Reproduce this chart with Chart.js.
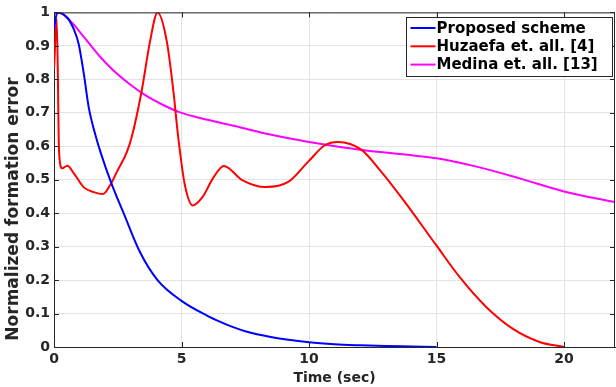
<!DOCTYPE html>
<html>
<head>
<meta charset="utf-8">
<script src="https://cdn.jsdelivr.net/npm/chart.js@4"></script>
<style>
  html, body { margin: 0; padding: 0; background: #fff; }
  #wrap { width: 616px; height: 387px; }
</style>
</head>
<body>
<div id="wrap"><canvas id="errChart" width="616" height="387"></canvas></div>
<script>
// data
const seriesNames = ['Proposed scheme', 'Huzaefa et. all. [4]', 'Medina et. all. [13]'];
const seriesColors = ['#0000ff', '#ff0000', '#ff00ff'];

const proposedT = [0, 0.13, 0.52, 0.78, 0.97, 1.17, 1.36, 1.6, 1.82, 2.27, 2.73, 3.35, 4.06, 5, 6, 6.5, 7, 7.5, 8.5, 10, 11, 12, 13, 14, 15];
const proposedE = [0.95, 1.0, 0.984, 0.949, 0.905, 0.816, 0.717, 0.64, 0.583, 0.485, 0.4, 0.287, 0.2, 0.138, 0.094, 0.076, 0.06, 0.047, 0.03, 0.014, 0.008, 0.005, 0.003, 0.0015, 0];

const huzaefaT = [0, 0.11, 0.2, 0.32, 0.52, 0.78, 1.17, 1.56, 1.92, 2.21, 2.47, 2.86, 3.05, 3.44, 3.77, 4.06, 4.42, 4.68, 4.87, 5.13, 5.45, 5.84, 6.23, 6.66, 7.38, 8.29, 9.2, 9.97, 10.62, 11.14, 12.05, 12.83, 13.74, 15.01, 15.92, 16.96, 18, 19.04, 20];
const huzaefaE = [0.83, 0.98, 0.58, 0.534, 0.542, 0.519, 0.477, 0.463, 0.457, 0.485, 0.524, 0.583, 0.628, 0.766, 0.915, 1.0, 0.915, 0.766, 0.628, 0.485, 0.423, 0.45, 0.504, 0.541, 0.499, 0.478, 0.494, 0.554, 0.603, 0.613, 0.59, 0.524, 0.435, 0.302, 0.208, 0.119, 0.054, 0.015, 0];

const medinaT = [0.05, 0.19, 0.65, 1.04, 1.43, 1.79, 2.31, 2.96, 3.61, 4.26, 4.91, 5.69, 7, 8.29, 10, 12.17, 14.26, 15, 16.57, 18.26, 20, 22];
const medinaE = [0.995, 1.0, 0.974, 0.939, 0.902, 0.869, 0.828, 0.786, 0.751, 0.724, 0.702, 0.685, 0.662, 0.638, 0.613, 0.588, 0.571, 0.564, 0.539, 0.504, 0.465, 0.433];

const xTicks = [0, 5, 10, 15, 20];
const xLabel = 'Time (sec)';
const yLabel = 'Normalized formation error';

function pts(ts, vs) {
    return ts.map((t, i) => ({ x: t, y: vs[i] }));
}

const FONT = 'DejaVu Sans';
const INK = '#262626';

// box, inward ticks, y label and the legend, drawn like the matlab figure
const matlabBox = {
    id: 'matlabBox',
    afterDatasetsDraw(chart) {
        const ctx = chart.ctx;
        const a = chart.chartArea;
        const xs = chart.scales.x, ys = chart.scales.y;
        ctx.save();
        ctx.strokeStyle = INK;
        ctx.lineWidth = 1;
        ctx.beginPath();
        ctx.moveTo(a.left, a.top + 0.5);
        ctx.lineTo(a.right - 0.5, a.top + 0.5);
        ctx.lineTo(a.right - 0.5, a.bottom);
        ctx.stroke();
        ctx.beginPath();
        xs.ticks.forEach(t => {
            const px = Math.round(xs.getPixelForValue(t.value)) + 0.5;
            ctx.moveTo(px, a.bottom); ctx.lineTo(px, a.bottom - 5);
            ctx.moveTo(px, a.top); ctx.lineTo(px, a.top + 5);
        });
        ys.ticks.forEach(t => {
            const py = Math.round(ys.getPixelForValue(t.value)) + 0.5;
            ctx.moveTo(a.left, py); ctx.lineTo(a.left + 5, py);
            ctx.moveTo(a.right, py); ctx.lineTo(a.right - 5, py);
        });
        ctx.stroke();

        // y label
        ctx.save();
        ctx.translate(14, 209);
        ctx.rotate(-Math.PI / 2);
        ctx.font = 'bold 17px ' + FONT;
        ctx.fillStyle = INK;
        ctx.textAlign = 'center';
        ctx.textBaseline = 'middle';
        ctx.fillText(yLabel, 0, 0);
        ctx.restore();

        // legend
        const bx = 406.5, by = 17.5, bw = 206, bh = 59;
        ctx.fillStyle = '#fff';
        ctx.fillRect(bx, by, bw, bh);
        ctx.strokeStyle = INK;
        ctx.strokeRect(bx, by, bw, bh);
        ctx.font = 'bold 15px ' + FONT;
        ctx.textBaseline = 'middle';
        ctx.textAlign = 'left';
        chart.data.datasets.forEach((ds, i) => {
            const cy = by + 10.5 + i * 18.3;
            ctx.strokeStyle = ds.borderColor;
            ctx.lineWidth = 2;
            ctx.beginPath();
            ctx.moveTo(bx + 4, cy); ctx.lineTo(bx + 29, cy);
            ctx.stroke();
            ctx.fillStyle = '#000';
            ctx.fillText(ds.label, bx + 30, cy + 1);
        });
        ctx.restore();
    }
};

const ctx = document.getElementById('errChart').getContext('2d');
const errChart = new Chart(ctx, {
    type: 'line',
    data: {
        datasets: [
            { label: seriesNames[0], data: pts(proposedT, proposedE) },
            { label: seriesNames[1], data: pts(huzaefaT, huzaefaE) },
            { label: seriesNames[2], data: pts(medinaT, medinaE) }
        ].map((d, i) => Object.assign(d, {
            borderColor: seriesColors[i],
            backgroundColor: seriesColors[i],
            borderWidth: 2,
            pointRadius: 0,
            fill: false,
            cubicInterpolationMode: 'monotone'
        }))
    },
    options: {
        responsive: false,
        animation: false,
        layout: { padding: { top: 9, right: 1, left: 0, bottom: 0 } },
        plugins: { legend: { display: false }, tooltip: { enabled: false } },
        scales: {
            x: {
                type: 'linear',
                min: 0,
                max: 22,
                afterBuildTicks: s => { s.ticks = xTicks.map(v => ({ value: v })); },
                afterFit: s => { s.height = 40; },
                grid: { color: '#e3e3e3', drawTicks: false },
                border: { color: INK },
                ticks: { color: INK, padding: 4, font: { family: FONT, size: 14, weight: 'bold' } },
                title: { display: true, text: xLabel, color: INK, padding: 0,
                         font: { family: FONT, size: 14, weight: 'bold' } }
            },
            y: {
                min: 0,
                max: 1,
                afterFit: s => { s.width = 54; },
                grid: { color: '#e3e3e3', drawTicks: false },
                border: { color: INK },
                ticks: {
                    stepSize: 0.1,
                    color: INK,
                    padding: 4,
                    font: { family: FONT, size: 14, weight: 'bold' },
                    callback: v => String(Math.round(v * 10) / 10)
                }
            }
        }
    },
    plugins: [matlabBox]
});
</script>
</body>
</html>
